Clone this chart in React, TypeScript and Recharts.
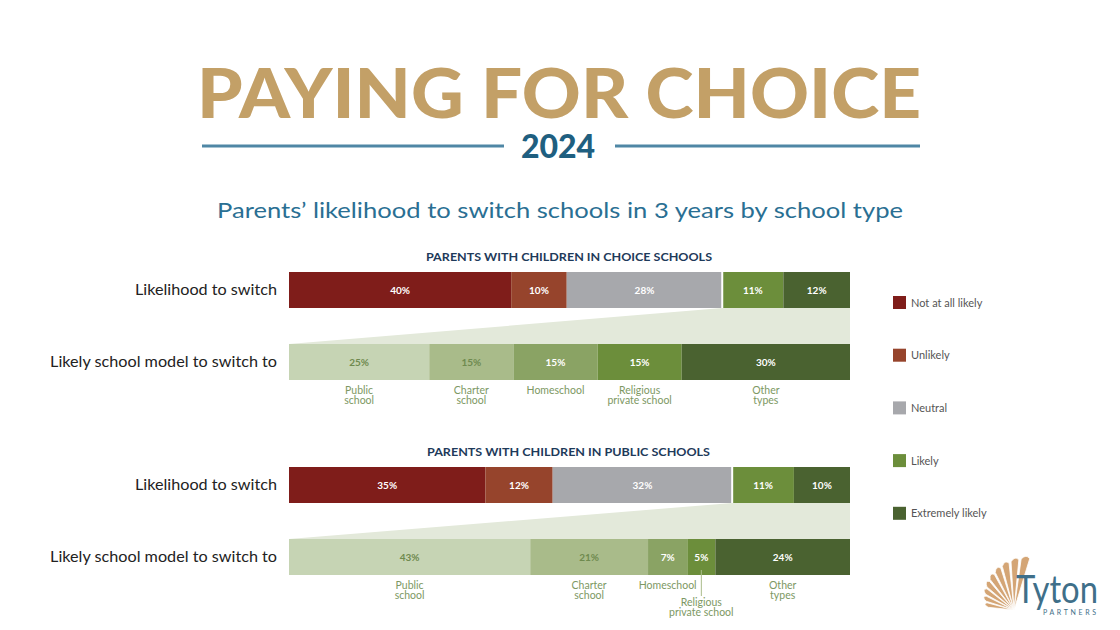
import React from 'react';
import { BarChart, Bar, XAxis, YAxis, LabelList } from 'recharts';

// ---------- data ----------
const SWITCH_LEVELS = ['Not at all likely', 'Unlikely', 'Neutral', 'Likely', 'Extremely likely'];
const SWITCH_COLORS = ['#7f1d1a', '#96442c', '#a7a8ac', '#6c8e3b', '#4a6230'];
const MODEL_TYPES = ['Public school', 'Charter school', 'Homeschool', 'Religious private school', 'Other types'];
const MODEL_LINES = [['Public', 'school'], ['Charter', 'school'], ['Homeschool'], ['Religious', 'private school'], ['Other', 'types']];
const MODEL_COLORS = ['#c6d4b4', '#a9bb8a', '#8aa364', '#6c8e3b', '#4a6230'];
const MODEL_TEXT = ['#6f8a4f', '#6f8a4f', '#ffffff', '#ffffff', '#ffffff'];

const CHOICE_SWITCH = [40, 10, 28, 11, 12];
const CHOICE_MODEL = [25, 15, 15, 15, 30];
const PUBLIC_SWITCH = [35, 12, 32, 11, 10];
const PUBLIC_MODEL = [43, 21, 7, 5, 24];

const ROW_IDS = ['switch', 'funnel', 'model'];
const ROW_LABELS = ['Likelihood to switch', '', 'Likely school model to switch to'];
const PANEL_TITLES = ['PARENTS WITH CHILDREN IN CHOICE SCHOOLS', 'PARENTS WITH CHILDREN IN PUBLIC SCHOOLS'];

const TITLE = 'PAYING FOR CHOICE';
const YEAR = '2024';
const SUBTITLE = 'Parents’ likelihood to switch schools in 3 years by school type';

const FUNNEL_COLOR = '#e3e9da';
const FONT = 'Lato, "Open Sans", sans-serif';

const sum = (a: number[]) => a.reduce((s, v) => s + v, 0);

function buildRows(sw: number[], model: number[]) {
  const r0: any = { id: ROW_IDS[0] };
  sw.forEach((v, i) => (r0['s' + i] = v));
  const r1: any = { id: ROW_IDS[1], f: sum(sw), fStart: sum(sw.slice(0, 3)) };
  const r2: any = { id: ROW_IDS[2] };
  model.forEach((v, i) => (r2['m' + i] = v));
  return [r0, r1, r2];
}

// ---------- render helpers ----------
const FunnelShape = (props: any) => {
  const { x, y, width, height, payload } = props;
  if (!payload || !width) return null;
  const sx = x + (width * payload.fStart) / payload.f;
  const pts = `${sx},${y} ${x + width},${y} ${x + width},${y + height} ${x},${y + height}`;
  return <polygon points={pts} fill={FUNNEL_COLOR} />;
};

const makeSwitchShape = (i: number) => (props: any) => {
  const { x, y, width, height } = props;
  if (!width) return null;
  return (
    <g>
      <rect x={x} y={y} width={width} height={height} fill={SWITCH_COLORS[i]} />
      {i === 3 && <line x1={x} x2={x} y1={y} y2={y + height} stroke="#ffffff" strokeWidth={2} />}
    </g>
  );
};

const valueLabel = (color: string) => (props: any) => {
  const { x, y, width, height, value } = props;
  if (value == null) return null;
  return (
    <text x={x + width / 2} y={y + height / 2} dy={3.6} textAnchor="middle" fill={color}
      fontSize={10} fontWeight={700} fontFamily={FONT}>
      {value}%
    </text>
  );
};

const nameLabel = (lines: string[]) => (props: any) => {
  const { x, y, width, height, value } = props;
  if (value == null) return null;
  const cx = x + width / 2;
  const bottom = y + height;
  const narrow = width < 35;
  const base = bottom + (narrow ? 31 : 14);
  return (
    <g>
      {narrow && <line x1={cx} x2={cx} y1={bottom - 5} y2={bottom + 21} stroke="#a9bb8a" strokeWidth={1} />}
      {lines.map((l, k) => (
        <text key={k} x={cx} y={base + k * 10} textAnchor="middle" fill="#7d9863" fontSize={10.5} fontFamily={FONT}>
          {l}
        </text>
      ))}
    </g>
  );
};

const RowTick = (props: any) => {
  const { x, y, payload } = props;
  const label = ROW_LABELS[ROW_IDS.indexOf(payload.value)];
  return (
    <text x={x} y={y} dy={5} textAnchor="end" fill="#222222" fontSize={16.2} fontFamily={FONT}>
      {label}
    </text>
  );
};

function Panel({ sw, model, top, height }: { sw: number[]; model: number[]; top: number; height: number }) {
  const rows = buildRows(sw, model);
  return (
    <div style={{ position: 'absolute', left: 0, top, width: 1120, height }}>
      <BarChart width={1120} height={height} data={rows} layout="vertical"
        margin={{ top: 10, right: 270, bottom: height - 118, left: 0 }}
        barCategoryGap={0} barGap={0}>
        <XAxis xAxisId="top" type="number" domain={[0, sum(sw)]} hide />
        <XAxis xAxisId="bottom" type="number" domain={[0, sum(model)]} hide />
        <YAxis type="category" dataKey="id" width={289} axisLine={false} tickLine={false}
          tickSize={0} tickMargin={12} tick={<RowTick />} interval={0} />
        <Bar dataKey="f" xAxisId="top" stackId="S" shape={<FunnelShape />} isAnimationActive={false} />
        {sw.map((_, i) => (
          <Bar key={'s' + i} dataKey={'s' + i} name={SWITCH_LEVELS[i]} xAxisId="top" stackId="S"
            fill={SWITCH_COLORS[i]} shape={makeSwitchShape(i)} isAnimationActive={false}>
            <LabelList dataKey={'s' + i} content={valueLabel('#ffffff')} />
          </Bar>
        ))}
        {model.map((_, i) => (
          <Bar key={'m' + i} dataKey={'m' + i} name={MODEL_TYPES[i]} xAxisId="bottom" stackId="S"
            fill={MODEL_COLORS[i]} isAnimationActive={false}>
            <LabelList dataKey={'m' + i} content={valueLabel(MODEL_TEXT[i])} />
            <LabelList dataKey={'m' + i} content={nameLabel(MODEL_LINES[i])} />
          </Bar>
        ))}
      </BarChart>
    </div>
  );
}

function Shell() {
  const blades = [];
  const px = 1014, py = 610;
  for (let i = 0; i < 9; i++) {
    const a1 = ((186 + i * 11.5) * Math.PI) / 180;
    const a2 = ((195 + i * 11.5) * Math.PI) / 180;
    const r1 = 26 + i * 3.2;
    const r2 = 28 + i * 3.2;
    const p = `M${px},${py} L${px + r1 * Math.cos(a1)},${py + r1 * Math.sin(a1)} Q${px + (r1 + 6) * Math.cos((a1 + a2) / 2)},${py + (r1 + 6) * Math.sin((a1 + a2) / 2)} ${px + r2 * Math.cos(a2)},${py + r2 * Math.sin(a2)} Z`;
    blades.push(<path key={i} d={p} fill="#d4a575" stroke="#ffffff" strokeWidth={0.8} />);
  }
  return <g>{blades}</g>;
}

export default function App() {
  return (
    <div style={{ position: 'absolute', left: 0, top: 0, width: 1120, height: 630, background: '#ffffff', overflow: 'hidden' }}>
      <svg width={1120} height={630} style={{ position: 'absolute', left: 0, top: 0 }}>
        <text x={197} y={118} textLength={724} lengthAdjust="spacingAndGlyphs" fill="#c3a067"
          fontSize={68} fontWeight={900} fontFamily={FONT}>{TITLE}</text>
        <line x1={202} x2={504} y1={146} y2={146} stroke="#4f87a5" strokeWidth={3} />
        <line x1={615} x2={920} y1={146} y2={146} stroke="#4f87a5" strokeWidth={3} />
        <text x={558} y={158} textAnchor="middle" fill="#1f5f80" fontSize={32} fontWeight={900}
          fontFamily={FONT}>{YEAR}</text>
        <text x={217} y={218} textLength={686} lengthAdjust="spacingAndGlyphs" fill="#2a6f93"
          fontSize={22} fontWeight={400} fontFamily={FONT}>{SUBTITLE}</text>
        <text x={426} y={261} textLength={286} lengthAdjust="spacingAndGlyphs" fill="#1e3a5a"
          fontSize={12} fontWeight={700} fontFamily={FONT}>{PANEL_TITLES[0]}</text>
        <text x={427} y={456} textLength={283} lengthAdjust="spacingAndGlyphs" fill="#1e3a5a"
          fontSize={12} fontWeight={700} fontFamily={FONT}>{PANEL_TITLES[1]}</text>
        {SWITCH_LEVELS.map((name, i) => (
          <g key={name}>
            <rect x={893} y={296 + i * 52.7} width={13} height={13} fill={SWITCH_COLORS[i]} />
            <text x={911} y={306.5 + i * 52.7} fill="#555555" fontSize={11} fontFamily={FONT}>{name}</text>
          </g>
        ))}
        <Shell />
        <text x={1016} y={603} fill="#3f6f89" fontSize={38} fontFamily={FONT} textLength={82}
          lengthAdjust="spacingAndGlyphs">Tyton</text>
        <text x={1043} y={615} fill="#3f6f89" fontSize={7} fontFamily={FONT} textLength={53}
          lengthAdjust="spacing">PARTNERS</text>
      </svg>
      <Panel sw={CHOICE_SWITCH} model={CHOICE_MODEL} top={262} height={170} />
      <Panel sw={PUBLIC_SWITCH} model={PUBLIC_MODEL} top={457} height={173} />
    </div>
  );
}
